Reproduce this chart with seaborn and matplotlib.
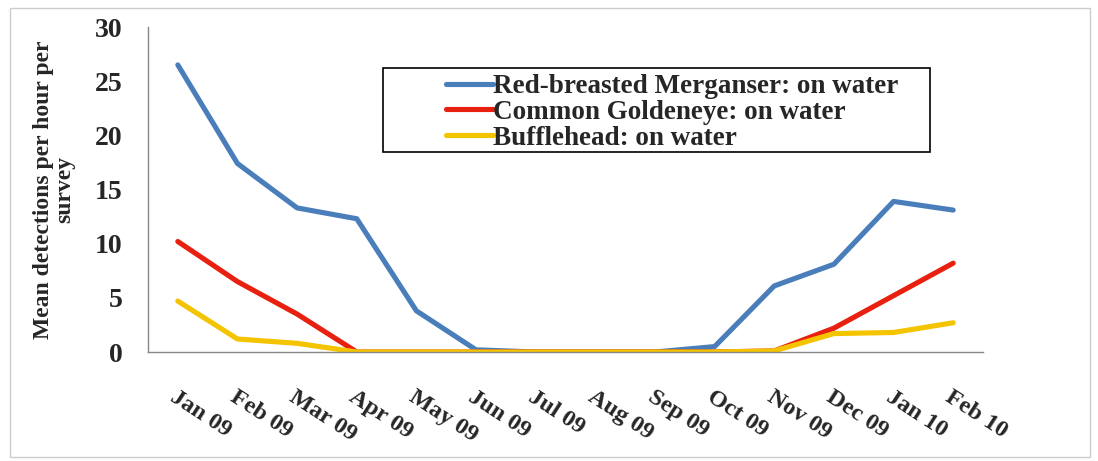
import numpy as np
import pandas as pd
import matplotlib
matplotlib.use("Agg")
import matplotlib.pyplot as plt
import seaborn as sns
from matplotlib.patches import Rectangle

months = ["Jan 09", "Feb 09", "Mar 09", "Apr 09", "May 09", "Jun 09", "Jul 09",
          "Aug 09", "Sep 09", "Oct 09", "Nov 09", "Dec 09", "Jan 10", "Feb 10"]
merganser = [26.5, 17.4, 13.3, 12.3, 3.8, 0.2, 0.0, 0.0, 0.0, 0.5, 6.1, 8.1, 13.9, 13.1]
goldeneye = [10.2, 6.5, 3.5, 0.0, 0.0, 0.0, 0.0, 0.0, 0.0, 0.0, 0.1, 2.2, 5.2, 8.2]
bufflehead = [4.7, 1.2, 0.8, 0.0, 0.0, 0.0, 0.0, 0.0, 0.0, 0.0, 0.1, 1.7, 1.8, 2.7]
series_names = ["Red-breasted Merganser: on water",
                "Common Goldeneye: on water",
                "Bufflehead: on water"]
colors = ["#4A7EBB", "#E8200F", "#F5C400"]

rows = []
for name, vals in zip(series_names, [merganser, goldeneye, bufflehead]):
    for i, v in enumerate(vals):
        rows.append({"idx": i, "month": months[i], "value": v, "series": name})
df = pd.DataFrame(rows)

sns.set_theme(style="white")
plt.rcParams['font.family'] = ['Liberation Serif', 'DejaVu Serif']

W, H = 1098, 461
fig = plt.figure(figsize=(W / 100, H / 100), dpi=100)
fig.patch.set_facecolor("white")
ax = fig.add_axes([148 / W, 1 - 352 / H, (983 - 148) / W, (352 - 27) / H])

sns.lineplot(data=df, x="idx", y="value", hue="series", hue_order=series_names,
             palette=colors, linewidth=3.7, ax=ax, legend=True)

ax.set_xlim(-0.5, 13.5)
ax.set_ylim(0, 30)
ax.set_yticks(np.arange(0, 31, 5))
ax.set_yticklabels([str(v) for v in range(0, 31, 5)], fontsize=20, fontweight="bold")
ax.set_xticks(range(len(months)))
ax.set_xticklabels(months, fontsize=17.5, fontweight="bold", rotation=-33,
                   ha="left", va="top", rotation_mode="anchor")
ax.set_xticks(np.arange(-0.5, 14, 1), minor=True)
ax.tick_params(axis="x", which="major", length=0, pad=25)
ax.tick_params(axis="x", which="minor", length=7, color="#888888", width=1, direction="out")
ax.tick_params(axis="y", which="major", length=7.5, color="#888888", width=1,
               direction="out", pad=11)
ax.set_xlabel("")
ax.set_ylabel("Mean detections per hour per\nsurvey", fontsize=17, fontweight="bold",
              linespacing=1.0, labelpad=14)
for s in ["top", "right"]:
    ax.spines[s].set_visible(False)
for s in ["left", "bottom"]:
    ax.spines[s].set_color("#888888")
    ax.spines[s].set_linewidth(1)

leg = ax.legend(loc="upper left", bbox_to_anchor=(446 / W, 1 - 74 / H),
                bbox_transform=fig.transFigure, frameon=False,
                prop={"weight": "bold", "size": 19.5, "family": "Liberation Serif"},
                handlelength=1.75, handletextpad=0.0, borderpad=0, labelspacing=0.03,
                borderaxespad=0)
for line in leg.get_lines():
    line.set_linewidth(3.7)

fig.patches.append(Rectangle((383 / W, 1 - 152 / H), 547 / W, 84 / H,
                             transform=fig.transFigure, fill=False,
                             edgecolor="black", linewidth=1.2))
fig.patches.append(Rectangle((10 / W, 4 / H), 1080 / W, 449 / H,
                             transform=fig.transFigure, fill=False,
                             edgecolor="#cccccc", linewidth=1))

fig.savefig("out.png", dpi=100)
